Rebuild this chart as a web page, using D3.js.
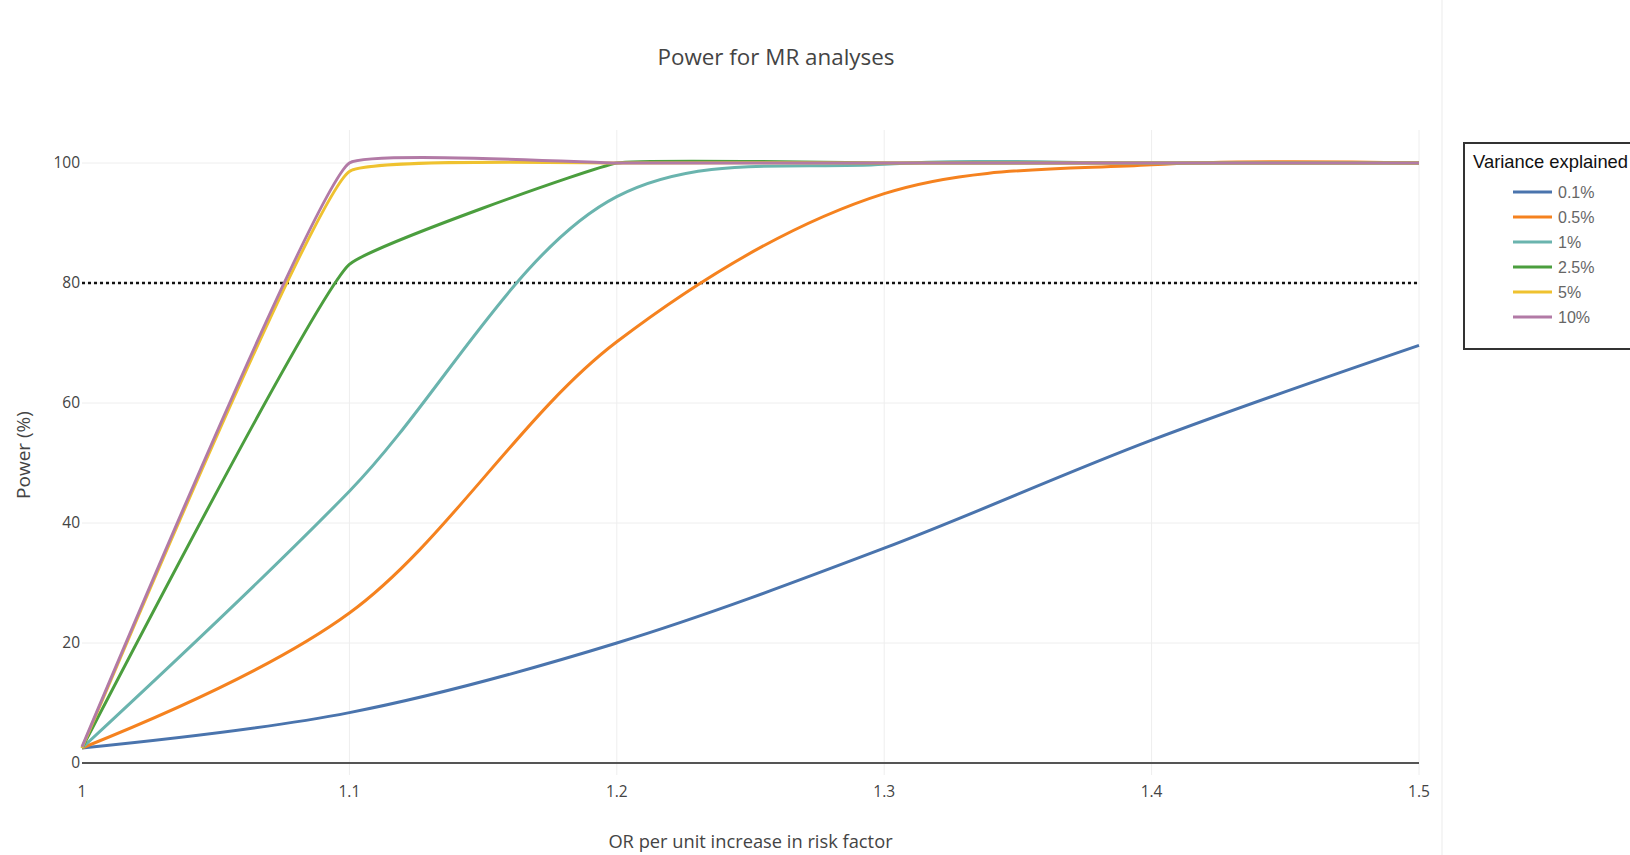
<!DOCTYPE html>
<html>
<head>
<meta charset="utf-8">
<script src="https://cdnjs.cloudflare.com/ajax/libs/d3/7.8.5/d3.min.js"></script>
<style>
  body { margin: 0; background: #fff; }
  svg { display: block; }
  .grid line { stroke: #eee; stroke-width: 1; }
  .tick-label { font-family: "Open Sans", sans-serif; font-size: 15.5px; fill: #444; }
</style>
</head>
<body>
<div id="chart"></div>
<script>
// OR per unit increase in risk factor
let orValues = [1, 1.1, 1.2, 1.3, 1.4, 1.5]

// power (%) for each variance explained
let power01 = [2.5, 8.4, 20, 35.8, 53.8, 69.6]
let power05 = [2.5, 25, 70.2, 94.9, 99.7, 100]
let power1 = [2.5, 45.3, 94.4, 99.8, 100, 100]
let power25 = [2.5, 83.1, 100, 100, 100, 100]
let power5 = [2.5, 98.6, 100, 100, 100, 100]
let power10 = [2.7, 100, 100, 100, 100, 100]

let seriesNames = ["0.1%", "0.5%", "1%", "2.5%", "5%", "10%"]
let seriesValues = [power01, power05, power1, power25, power5, power10]

let xTicks = [1, 1.1, 1.2, 1.3, 1.4, 1.5]
let yTicks = [0, 20, 40, 60, 80, 100]
let threshold = 80

let colors = ["#4a74ad", "#f5821f", "#6ab4ae", "#4b9e3e", "#efc22f", "#b27aa6"]
let smoothing = [1, 1, 1, 0.27, 0.27, 0.25]

var width = 1630, height = 855;
var plot = { left: 82, right: 1419, top: 130, bottom: 775 };

// spline like the one plotly draws (centripetal catmull-rom tangents)
function smoothSpline(smoothness) {
  function tangent(p0, p1, p2) {
    var d1x = p0[0] - p1[0], d1y = p0[1] - p1[1];
    var d2x = p2[0] - p1[0], d2y = p2[1] - p1[1];
    var d1a = Math.pow(d1x * d1x + d1y * d1y, 0.25);
    var d2a = Math.pow(d2x * d2x + d2y * d2y, 0.25);
    var numx = (d2a * d2a * d1x - d1a * d1a * d2x) * smoothness;
    var numy = (d2a * d2a * d1y - d1a * d1a * d2y) * smoothness;
    var den1 = 3 * d2a * (d1a + d2a), den2 = 3 * d1a * (d1a + d2a);
    return [[p1[0] + numx / den1, p1[1] + numy / den1],
            [p1[0] - numx / den2, p1[1] - numy / den2]];
  }
  return function(context) {
    var pts;
    return {
      areaStart: function() {}, areaEnd: function() {},
      lineStart: function() { pts = []; },
      point: function(x, y) { pts.push([+x, +y]); },
      lineEnd: function() {
        var n = pts.length, t = [];
        for (var i = 1; i < n - 1; i++) t.push(tangent(pts[i - 1], pts[i], pts[i + 1]));
        context.moveTo(pts[0][0], pts[0][1]);
        context.quadraticCurveTo(t[0][0][0], t[0][0][1], pts[1][0], pts[1][1]);
        for (var j = 2; j < n - 1; j++) {
          context.bezierCurveTo(t[j - 2][1][0], t[j - 2][1][1], t[j - 1][0][0], t[j - 1][0][1], pts[j][0], pts[j][1]);
        }
        context.quadraticCurveTo(t[n - 3][1][0], t[n - 3][1][1], pts[n - 1][0], pts[n - 1][1]);
      }
    };
  };
}

var svg = d3.select("#chart").append("svg")
    .attr("width", width)
    .attr("height", height);

var xScale = d3.scaleLinear()
    .domain([1, 1.5])
    .range([plot.left, plot.right]);

var yScale = d3.scaleLinear()
    .domain([-2, 105.5])
    .range([plot.bottom, plot.top]);

// edge of the plot image
svg.append("line")
    .attr("x1", 1442).attr("x2", 1442)
    .attr("y1", 0).attr("y2", height)
    .attr("stroke", "#f2f2f2").attr("stroke-width", 1.5);

// grid
var grid = svg.append("g").attr("class", "grid");
grid.selectAll(".vg").data(xTicks.slice(1)).enter().append("line")
    .attr("x1", d => xScale(d)).attr("x2", d => xScale(d))
    .attr("y1", plot.top).attr("y2", plot.bottom);
grid.selectAll(".hg").data(yTicks.filter(d => d > 0)).enter().append("line")
    .attr("x1", plot.left).attr("x2", plot.right)
    .attr("y1", d => yScale(d)).attr("y2", d => yScale(d));

// zero line
svg.append("line")
    .attr("x1", plot.left).attr("x2", plot.right)
    .attr("y1", yScale(0)).attr("y2", yScale(0))
    .attr("stroke", "#555").attr("stroke-width", 2);

// tick labels
svg.selectAll(".ylab").data(yTicks).enter().append("text")
    .attr("class", "tick-label")
    .attr("x", plot.left - 2)
    .attr("y", d => yScale(d))
    .attr("dy", "0.35em")
    .style("text-anchor", "end")
    .text(d => d);

svg.selectAll(".xlab").data(xTicks).enter().append("text")
    .attr("class", "tick-label")
    .attr("x", d => xScale(d))
    .attr("y", 797)
    .style("text-anchor", "middle")
    .text(d => d3.format("")(d));

// threshold line
svg.append("line")
    .attr("x1", xScale(1)).attr("x2", xScale(1.5))
    .attr("y1", yScale(threshold)).attr("y2", yScale(threshold))
    .attr("stroke", "#111")
    .attr("stroke-width", 2.6)
    .attr("stroke-dasharray", "3,3");

// lines
seriesValues.forEach(function(values, i) {
  var line = d3.line()
      .x((d, j) => xScale(orValues[j]))
      .y(d => yScale(d))
      .curve(smoothSpline(smoothing[i]));

  svg.append("path")
      .datum(values)
      .attr("class", "series")
      .attr("d", line)
      .attr("fill", "none")
      .attr("stroke", colors[i])
      .attr("stroke-width", 3)
      .attr("stroke-linejoin", "round");
});

// titles
svg.append("text")
    .attr("x", 776).attr("y", 65)
    .style("text-anchor", "middle")
    .style("font-family", "Open Sans, sans-serif")
    .style("font-size", "22.4px")
    .style("fill", "#444")
    .text("Power for MR analyses");

svg.append("text")
    .attr("x", (plot.left + plot.right) / 2).attr("y", 848)
    .style("text-anchor", "middle")
    .style("font-family", "Open Sans, sans-serif")
    .style("font-size", "18.3px")
    .style("fill", "#444")
    .text("OR per unit increase in risk factor");

svg.append("text")
    .attr("transform", "translate(30,455) rotate(-90)")
    .style("text-anchor", "middle")
    .style("font-family", "Open Sans, sans-serif")
    .style("font-size", "19px")
    .style("fill", "#444")
    .text("Power (%)");

// legend
var legend = svg.append("g");
legend.append("rect")
    .attr("x", 1464).attr("y", 143)
    .attr("width", 200).attr("height", 206)
    .attr("fill", "#fff")
    .attr("stroke", "#333")
    .attr("stroke-width", 2);

legend.append("text")
    .attr("x", 1473).attr("y", 168)
    .style("font-family", "Liberation Sans, Arial, sans-serif")
    .style("font-size", "18.4px")
    .style("fill", "#111")
    .text("Variance explained");

var items = legend.selectAll(".item").data(seriesNames).enter().append("g")
    .attr("transform", (d, i) => "translate(0," + (192 + i * 25) + ")");
items.append("line")
    .attr("x1", 1513).attr("x2", 1552)
    .attr("stroke", (d, i) => colors[i])
    .attr("stroke-width", 3);
items.append("text")
    .attr("x", 1558).attr("dy", "0.35em")
    .style("font-family", "Liberation Sans, Arial, sans-serif")
    .style("font-size", "16px")
    .style("fill", "#666")
    .text(d => d);
</script>
</body>
</html>
